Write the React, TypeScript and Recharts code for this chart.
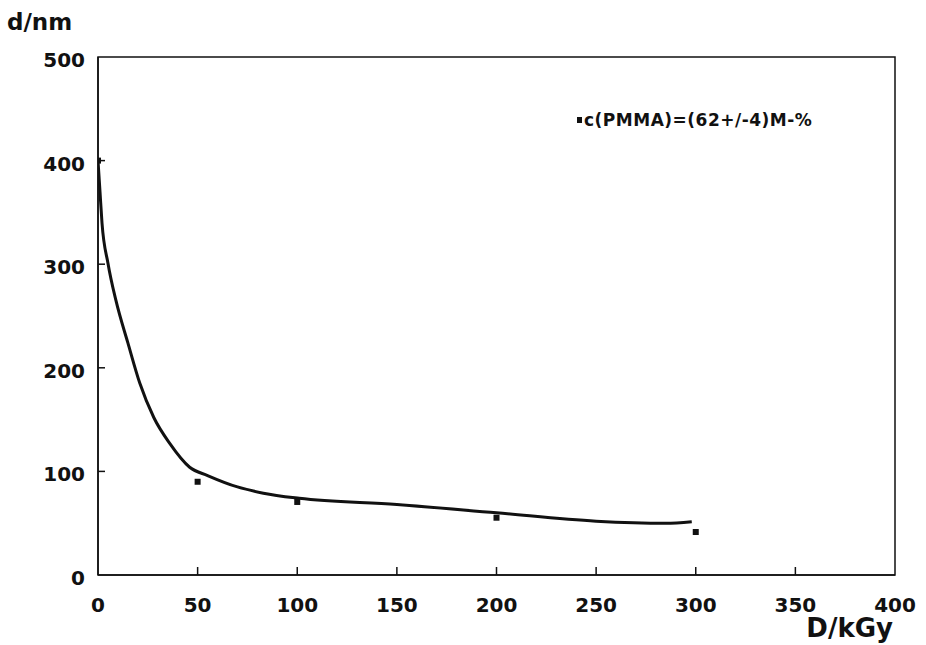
import React from 'react';
import {
  ComposedChart,
  Line,
  Scatter,
  XAxis,
  YAxis,
  ReferenceArea,
} from 'recharts';

// fitted curve
const curveDose = [0, 1, 2, 5, 9, 15, 21, 28, 36, 46, 55, 70, 83, 101, 150, 200, 250, 285, 298];
const curveThickness = [400, 370, 340, 301, 265, 224, 185, 152, 127, 104, 96, 85, 79, 74, 68, 60, 52, 50, 51.5];

// measured points
const pointDose = [0, 50, 100, 200, 300];
const pointThickness = [400, 90, 70.5, 55.3, 41.5];

const xTicks = [0, 50, 100, 150, 200, 250, 300, 350, 400];
const yTicks = [0, 100, 200, 300, 400, 500];

const legendText = 'c(PMMA)=(62+/-4)M-%';

const FONT = '"DejaVu Sans", sans-serif';
const INK = '#111';

const curveData = curveDose.map((x, i) => ({ x, y: curveThickness[i] }));
const pointData = pointDose.map((x, i) => ({ x, y: pointThickness[i] }));

function XTick(props: any) {
  const { x, y, payload } = props;
  const v = payload.value;
  return (
    <g>
      {v !== 0 && v !== 400 && (
        <line x1={x} x2={x} y1={y} y2={y - 8} stroke={INK} strokeWidth={1.5} />
      )}
      <text
        x={x}
        y={y + 37}
        textAnchor="middle"
        fontFamily={FONT}
        fontWeight="bold"
        fontSize={20}
        fill={INK}
      >
        {v}
      </text>
    </g>
  );
}

function YTick(props: any) {
  const { x, y, payload } = props;
  const v = payload.value;
  return (
    <g>
      {v !== 0 && v !== 500 && (
        <line x1={x} x2={x + 7} y1={y} y2={y} stroke={INK} strokeWidth={1.5} />
      )}
      <text
        x={x - 13}
        y={y + 10}
        textAnchor="end"
        fontFamily={FONT}
        fontWeight="bold"
        fontSize={20}
        fill={INK}
      >
        {v}
      </text>
    </g>
  );
}

function SquareDot(props: any) {
  const { cx, cy } = props;
  if (cx == null || cy == null) return null;
  return <rect x={cx - 3} y={cy - 3} width={6} height={6} fill={INK} />;
}

export default function App() {
  return (
    <div style={{ position: 'absolute', left: 0, top: 0, width: 926, height: 645, background: '#fff' }}>
      <ComposedChart
        width={926}
        height={645}
        margin={{ top: 57, right: 31, bottom: 40, left: 38 }}
      >
        <XAxis
          dataKey="x"
          type="number"
          domain={[0, 400]}
          ticks={xTicks}
          height={30}
          tickSize={0}
          tickMargin={0}
          tick={<XTick />}
          axisLine={{ stroke: INK, strokeWidth: 1.5 }}
          allowDataOverflow
          label={{
            content: (p: any) => {
              const vb = p.viewBox;
              return (
                <text
                  x={vb.x + vb.width - 2}
                  y={vb.y + 62}
                  textAnchor="end"
                  fontFamily={FONT}
                  fontWeight="bold"
                  fontSize={26}
                  fill={INK}
                >
                  D/kGy
                </text>
              );
            },
          }}
        />
        <YAxis
          dataKey="y"
          type="number"
          domain={[0, 500]}
          ticks={yTicks}
          width={60}
          tickSize={0}
          tickMargin={0}
          tick={<YTick />}
          axisLine={{ stroke: INK, strokeWidth: 1.5 }}
          allowDataOverflow
          label={{
            content: (p: any) => {
              const vb = p.viewBox;
              return (
                <text
                  x={vb.x - 31}
                  y={vb.y - 27}
                  fontFamily={FONT}
                  fontWeight="bold"
                  fontSize={23}
                  fill={INK}
                >
                  d/nm
                </text>
              );
            },
          }}
        />
        <ReferenceArea
          x1={0}
          x2={400}
          y1={0}
          y2={500}
          fill="none"
          stroke={INK}
          strokeWidth={1.5}
          ifOverflow="visible"
        />
        <Line
          data={curveData}
          dataKey="y"
          type="monotone"
          stroke={INK}
          strokeWidth={3}
          dot={false}
          activeDot={false}
          isAnimationActive={false}
        />
        <Scatter
          data={pointData}
          dataKey="y"
          fill={INK}
          shape={<SquareDot />}
          isAnimationActive={false}
        />
      </ComposedChart>
      <div
        style={{
          position: 'absolute',
          left: 577,
          top: 110,
          display: 'flex',
          alignItems: 'center',
          fontFamily: FONT,
          fontWeight: 'bold',
          fontSize: 17,
          letterSpacing: 0.5,
          color: INK,
          whiteSpace: 'nowrap',
        }}
      >
        <span style={{ display: 'inline-block', width: 5, height: 6, background: INK, marginRight: 2 }} />
        {legendText}
      </div>
    </div>
  );
}
